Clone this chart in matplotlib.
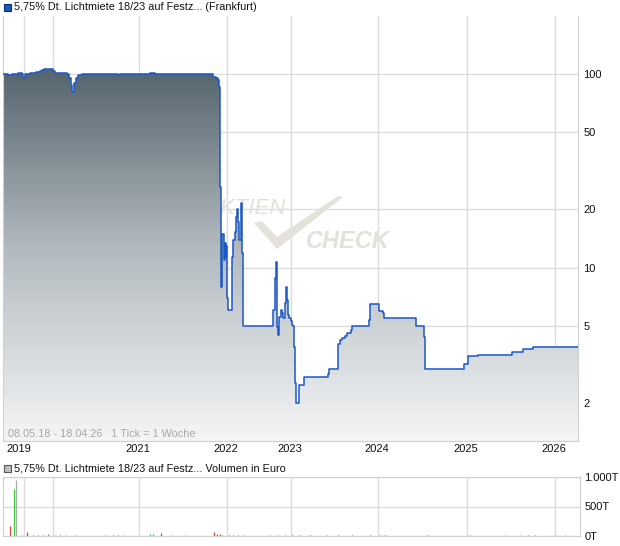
import numpy as np
import matplotlib
matplotlib.use("Agg")
import matplotlib.pyplot as plt
from matplotlib.colors import LinearSegmentedColormap
from matplotlib.patches import Polygon, Rectangle

plt.rcParams['font.family'] = ['Liberation Sans', 'DejaVu Sans']

# ---------------- data ----------------
title_price = "5,75% Dt. Lichtmiete 18/23 auf Festz... (Frankfurt)"
title_vol = "5,75% Dt. Lichtmiete 18/23 auf Festz... Volumen in Euro"
range_text = "08.05.18 - 18.04.26   1 Tick = 1 Woche"

# (tick index along axis, price) step values
price_points = [
    (0, 100), (5, 99), (9, 100.5), (15, 101), (19, 100), (20, 95.5), (22, 100),
    (27, 101), (33, 102), (37, 103), (39, 104.8), (41, 105.7), (50, 104), (52, 101.6),
    (63, 101), (64, 99.5), (66, 95.4), (68, 88), (69, 81), (71, 90), (73, 95),
    (75, 98.8), (79, 99.5), (97, 100), (112, 100.5), (115, 99), (117, 100),
    (137, 100), (147, 101), (152, 100), (162, 100.5), (209, 100.5), (210, 96),
    (213, 95.5), (215, 93), (216, 86), (217, 26), (218, 8), (219, 15), (221, 11),
    (222, 13.4), (222.5, 11.4), (223, 13), (224, 7), (225, 6.1), (227.5, 6.1),
    (229, 11.4), (230, 14), (231.5, 15.3), (233, 18.3), (234, 20), (235, 17.3),
    (236, 14), (237.5, 21.6), (238.5, 12), (239.5, 5.4), (240, 5.0),
    (269.5, 6.1), (272, 8.9), (273, 10.7), (273.7, 8.4), (274.3, 4.96), (275.3, 4.5),
    (276.3, 5.6), (277.7, 6.1), (278.7, 5.85), (280, 5.5), (282, 6.6), (283, 8.0),
    (283.7, 6.8), (284.7, 5.7), (286.3, 5.5), (287.7, 5.3), (289, 5.1), (290.3, 5.0),
    (291.3, 3.9), (292.3, 2.55), (293, 2.0), (296.3, 2.5), (301.3, 2.75),
    (324.7, 2.85), (326.3, 3.0), (335.3, 4.07), (337, 4.26), (338.7, 4.35),
    (342, 4.47), (344.3, 4.6), (347.7, 4.8), (349.3, 5.0), (366, 5.4), (367, 6.5),
    (375.7, 6.0), (379.7, 5.85), (381, 5.5), (413, 5.0), (421, 4.4), (422, 3.0),
    (461, 3.2), (464.7, 3.5), (475, 3.56), (509, 3.69), (520, 3.82), (530, 3.92),
    (575, 3.92),
]
price_pos = [p for p, v in price_points]
price_val = [v for p, v in price_points]

year_grid = [21, 50, 136, 224, 288, 375, 464, 552]
year_labels = ["2019", "", "2021", "2022", "2023", "2024", "2025", "2026"]
price_ticks = [2, 5, 10, 20, 50, 100]
price_ticklabels = ["2", "5", "10", "20", "50", "100"]

# (tick index, volume in thousand euro, colour code)
vol_points = [
    (7, 175, 'r'), (11, 800, 'g'), (13, 950, 'k'), (19, 25, 'k'), (24, 60, 'r'),
    (30, 20, 'g'), (35, 15, 'g'), (40, 20, 'g'), (45, 30, 'g'), (52, 25, 'k'),
    (57, 18, 'r'), (63, 15, 'k'), (72, 15, 'g'), (102, 20, 'g'), (110, 18, 'r'),
    (115, 15, 'k'), (121, 25, 'k'), (147, 35, 'g'), (150, 35, 'g'), (158, 45, 'r'),
    (169, 18, 'k'), (182, 15, 'k'), (211, 75, 'r'), (214, 40, 'r'), (217, 35, 'r'),
    (220, 18, 'k'), (226, 22, 'r'), (230, 20, 'g'), (235, 18, 'g'), (240, 18, 'g'),
    (267, 18, 'g'), (275, 15, 'g'), (282, 15, 'g'), (289, 18, 'r'), (297, 18, 'r'),
    (307, 18, 'r'), (324, 15, 'g'), (335, 18, 'r'), (349, 18, 'r'), (367, 22, 'r'),
    (377, 18, 'r'), (382, 15, 'r'), (424, 15, 'r'), (467, 15, 'g'), (502, 15, 'k'),
    (517, 15, 'k'), (525, 15, 'g'), (532, 18, 'g'), (552, 18, 'k'), (562, 15, 'k'),
]
vol_pos = [p for p, v, c in vol_points]
vol_val = [v for p, v, c in vol_points]
vol_col = [c for p, v, c in vol_points]
vol_ticks = [0, 500, 1000]
vol_ticklabels = ["0T", "500T", "1.000T"]

# ---------------- figure ----------------
W, H = 620, 546
fig = plt.figure(figsize=(W / 100, H / 100), dpi=100)
fig.patch.set_facecolor('white')

ax = fig.add_axes([3 / W, 1 - 441 / H, 575 / W, 425 / H])
axv = fig.add_axes([3 / W, 1 - 536 / H, 577 / W, 59 / H])

grid_c = '#dcdcdc'
line_c = '#1b57c6'

# main panel
ax.set_yscale('log')
ax.set_xlim(0, 575)
ax.set_ylim(1.28, 199)
ax.set_autoscale_on(False)

ax.set_yticks(price_ticks)
ax.set_yticklabels(price_ticklabels)
ax.yaxis.set_minor_locator(matplotlib.ticker.NullLocator())
ax.yaxis.tick_right()
ax.tick_params(axis='y', length=0, pad=4, labelsize=8, labelcolor='#111111')
ax.set_xticks(year_grid)
ax.tick_params(axis='x', length=0, labelbottom=False)
ax.grid(True, color=grid_c, lw=1)
ax.set_axisbelow(True)
for s in ['left', 'right', 'bottom']:
    ax.spines[s].set_color('#d0d0d0')
ax.spines['top'].set_visible(False)

# watermark
wm_c = '#e4e0da'
ax.text((205 - 3) / 575, (441 - 214) / 425, "AKTIEN", transform=ax.transAxes,
        fontsize=16, style='italic', color=wm_c, va='baseline', zorder=1)
ax.text((306 - 3) / 575, (441 - 248) / 425, "CHECK", transform=ax.transAxes,
        fontsize=17, style='italic', color=wm_c, va='baseline', zorder=1,
        fontweight='bold')
chk_px = [(254, 223), (262, 221), (277, 237), (338, 196), (343, 197), (277, 249)]
chk = Polygon([((x - 3) / 575, (441 - y) / 425) for x, y in chk_px], closed=True,
              transform=ax.transAxes, facecolor=wm_c, edgecolor='none', zorder=1)
ax.add_patch(chk)

# gradient fill under the curve
xs = np.array(price_pos, dtype=float)
ys = np.array(price_val, dtype=float)
poly = ax.fill_between(xs, ys, 0.5, step='post', facecolor='none', edgecolor='none')
cmap = LinearSegmentedColormap.from_list(
    'g', [(0.0, '#f4f5f6'), (0.45, '#b3bbc0'), (0.87, '#56656f'), (1.0, '#4f5e68')])
grad = np.linspace(0, 1, 512).reshape(-1, 1)
im = ax.imshow(grad, origin='lower', extent=[0, 1, 0, 1], transform=ax.transAxes,
               aspect='auto', cmap=cmap, zorder=2, interpolation='bilinear')
im.set_clip_path(poly.get_paths()[0], ax.transData)
ax.set_xlim(0, 575)
ax.set_ylim(1.28, 199)

ax.plot(xs, ys, drawstyle='steps-post', color=line_c, lw=1.1, zorder=3)

# year labels
for xp, lab in zip(year_grid, year_labels):
    if lab:
        off = -5 if lab == "2019" else -1
        ax.text(xp + off, -0.008, lab, transform=ax.get_xaxis_transform(),
                ha='center', va='top', fontsize=8, color='#111111')

ax.text(5 / 575, 0.004, range_text, transform=ax.transAxes, fontsize=7.8,
        color='#aaa7a3', ha='left', va='bottom', zorder=4)

# titles with squares
fig.patches.append(Rectangle((4 / W, 1 - 11 / H), 7 / W, 7 / H, transform=fig.transFigure,
                             facecolor='#1b57c6', edgecolor='#0d2f70', lw=0.8))
fig.text(14 / W, 1 - 7.5 / H, title_price, fontsize=7.8, va='center', ha='left',
         color='#111111')
fig.patches.append(Rectangle((4 / W, 1 - 472 / H), 7 / W, 7 / H, transform=fig.transFigure,
                             facecolor='#c0c0c0', edgecolor='#555555', lw=0.8))
fig.text(14 / W, 1 - 468.5 / H, title_vol, fontsize=7.8, va='center', ha='left',
         color='#111111')

# volume panel
cmap_v = {'r': '#e04040', 'g': '#3ccc3c', 'k': '#aaaaaa'}
axv.vlines(vol_pos, 0, vol_val, colors=[cmap_v[c] for c in vol_col], lw=0.9, zorder=3)
axv.set_xlim(0, 577)
axv.set_ylim(0, 1000)
axv.set_xticks(year_grid)
axv.set_yticks(vol_ticks)
axv.set_yticklabels(vol_ticklabels)
axv.yaxis.tick_right()
axv.tick_params(axis='y', length=0, pad=3, labelsize=8, labelcolor='#111111')
axv.tick_params(axis='x', length=0, labelbottom=False)
axv.grid(True, color=grid_c, lw=1)
axv.set_axisbelow(True)
for s in axv.spines.values():
    s.set_color('#d0d0d0')

fig.savefig('out.png', dpi=100)
